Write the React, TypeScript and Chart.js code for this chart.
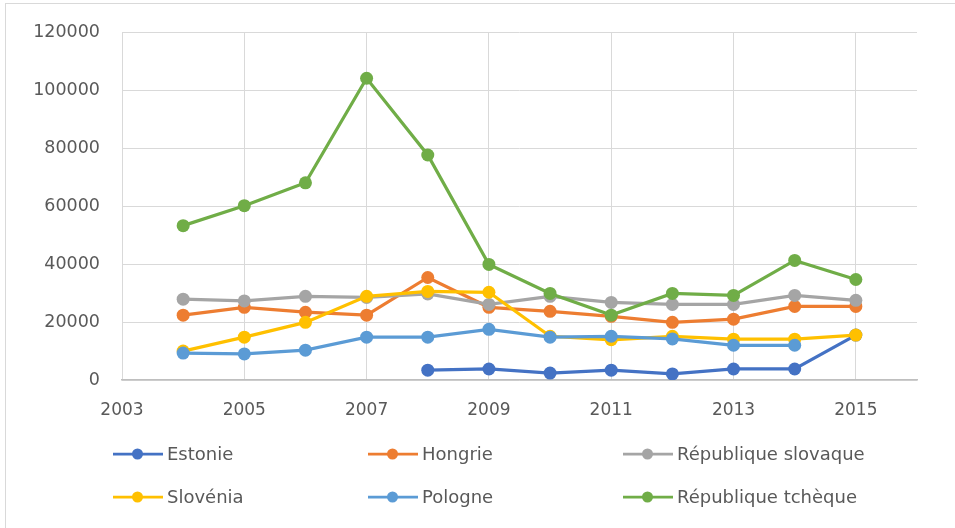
import React, { useEffect, useRef } from "react";
import { Chart, registerables } from "chart.js";

Chart.register(...registerables);

const years = [2004, 2005, 2006, 2007, 2008, 2009, 2010, 2011, 2012, 2013, 2014, 2015];

const estonie = [null, null, null, null, 3400, 3800, 2400, 3400, 2100, 3800, 3800, 15500];
const hongrie = [22400, 25100, 23400, 22400, 35400, 25100, 23700, 22000, 19900, 21000, 25400, 25400];
const slovaque = [27900, 27300, 28900, 28500, 29700, 26100, 28900, 26800, 26100, 26100, 29200, 27500];
const slovenia = [10000, 14800, 19900, 28900, 30600, 30300, 15100, 13900, 15100, 14100, 14100, 15500];
const pologne = [9300, 9000, 10300, 14800, 14800, 17500, 14800, 15100, 14200, 12000, 12000, null];
const tcheque = [53300, 60200, 68100, 104200, 77700, 39900, 29900, 22400, 29900, 29200, 41300, 34700];

const seriesNames = [
  "Estonie",
  "Hongrie",
  "République slovaque",
  "Slovénia",
  "Pologne",
  "République tchèque",
];
const seriesValues = [estonie, hongrie, slovaque, slovenia, pologne, tcheque];
const seriesColors = ["#4472C4", "#ED7D31", "#A5A5A5", "#FFC000", "#5B9BD5", "#70AD47"];

const xTickValues = [2003, 2005, 2007, 2009, 2011, 2013, 2015];
const xMin = 2003;
const xMax = 2016;
const yMin = 0;
const yMax = 120000;
const yStep = 20000;

const TEXT = "#595959";
const GRID = "#d9d9d9";

const gridLegend = {
  id: "gridLegend",
  afterDraw(chart: any) {
    const ctx = chart.ctx;
    ctx.save();
    chart.data.datasets.forEach((ds: any, i: number) => {
      const col = i % 3;
      const row = Math.floor(i / 3);
      const x0 = 113 + col * 255;
      const y = 454 + row * 43;
      ctx.strokeStyle = ds.borderColor;
      ctx.lineWidth = 2.75;
      ctx.beginPath();
      ctx.moveTo(x0, y);
      ctx.lineTo(x0 + 50, y);
      ctx.stroke();
      ctx.fillStyle = ds.borderColor;
      ctx.beginPath();
      ctx.arc(x0 + 24.5, y, 5.5, 0, Math.PI * 2);
      ctx.fill();
      ctx.fillStyle = TEXT;
      ctx.font = '18px "DejaVu Sans"';
      ctx.textBaseline = "middle";
      ctx.textAlign = "left";
      ctx.fillText(ds.label, x0 + 54, y + 1);
    });
    ctx.restore();
  },
};

export default function App() {
  const ref = useRef<HTMLCanvasElement | null>(null);

  useEffect(() => {
    if (!ref.current) return;
    const datasets = seriesNames.map((name, i) => ({
      label: name,
      data: years.map((yr, j) => ({ x: yr, y: seriesValues[i][j] })),
      borderColor: seriesColors[i],
      backgroundColor: seriesColors[i],
      pointBackgroundColor: seriesColors[i],
      pointBorderColor: seriesColors[i],
      borderWidth: 3.25,
      pointRadius: 6.5,
      pointBorderWidth: 0,
      tension: 0,
      spanGaps: false,
      order: seriesNames.length - i,
    }));

    const chart = new Chart(ref.current, {
      type: "line",
      data: { datasets },
      plugins: [gridLegend],
      options: {
        responsive: false,
        animation: false,
        layout: { padding: { top: 30, right: 38, left: 0, bottom: 103 } },
        plugins: {
          legend: { display: false },
          tooltip: { enabled: false },
        },
        scales: {
          x: {
            type: "linear",
            min: xMin,
            max: xMax,
            afterBuildTicks: (axis: any) => {
              axis.ticks = xTickValues.map((v) => ({ value: v }));
            },
            afterFit: (s: any) => {
              s.height = 45;
            },
            ticks: {
              color: TEXT,
              font: { family: "DejaVu Sans", size: 17 },
              padding: 20,
              maxRotation: 0,
              autoSkip: false,
              callback: (v: any) => String(v),
            },
            grid: { color: GRID, lineWidth: 1, drawTicks: false },
            border: { display: true, color: "#bfbfbf", width: 1.5 },
          },
          y: {
            type: "linear",
            min: yMin,
            max: yMax,
            afterFit: (s: any) => {
              s.width = 122;
            },
            ticks: {
              stepSize: yStep,
              color: TEXT,
              font: { family: "DejaVu Sans", size: 17.5 },
              padding: 22,
              callback: (v: any) => String(v),
            },
            grid: { color: GRID, lineWidth: 1, drawTicks: false },
            border: { display: false },
          },
        },
      },
    });
    return () => chart.destroy();
  }, []);

  return (
    <div
      style={{
        position: "fixed",
        left: 0,
        top: 0,
        width: 955,
        height: 528,
        overflow: "hidden",
        background: "#ffffff",
      }}
    >
      <div
        style={{
          position: "absolute",
          left: 5,
          top: 3,
          width: 1000,
          height: 600,
          border: "1px solid #d9d9d9",
        }}
      />
      <canvas
        ref={ref}
        width={955}
        height={528}
        style={{ position: "absolute", left: 0, top: 0, width: 955, height: 528 }}
      />
    </div>
  );
}
